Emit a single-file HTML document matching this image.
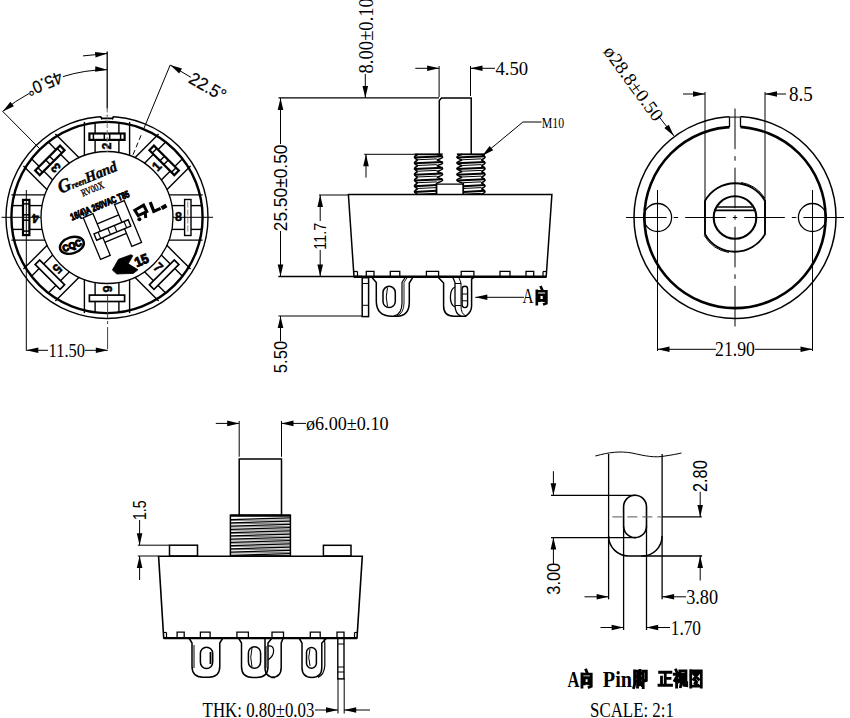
<!DOCTYPE html>
<html><head><meta charset="utf-8"><style>
html,body{margin:0;padding:0;background:#fff;overflow:hidden;width:850px;height:718px;}
svg{display:block;}
</style></head><body>
<svg width="850" height="718" viewBox="0 0 850 718" stroke="#000" fill="#000" stroke-linecap="butt">
<rect x="0" y="0" width="850" height="718" fill="#fff" stroke="none"/>
<g fill="none">
<circle cx="107.0" cy="217.5" r="101.0" stroke-width="1.4" fill="none" />
<circle cx="107.0" cy="217.5" r="95.6" stroke-width="2.4" fill="none" />
<circle cx="107.0" cy="217.5" r="66.0" stroke-width="1.3" fill="none" />
<rect x="101" y="115.5" width="12" height="4" fill="#fff" stroke="none"/>
<polyline points="100.80,116.60 101.60,118.40 112.60,118.40 113.40,116.60" stroke-width="1.6" fill="none" />
<line x1="101.60" y1="118.40" x2="101.60" y2="119.60" stroke-width="1.0" />
<line x1="112.60" y1="118.40" x2="112.60" y2="119.60" stroke-width="1.0" />
<g transform="rotate(0 107.0 217.5)"><line x1="84.4" y1="121.90" x2="84.4" y2="155.49" stroke-width="1.4"/><line x1="129.6" y1="121.90" x2="129.6" y2="155.49" stroke-width="1.4"/><line x1="95.1" y1="121.90" x2="95.1" y2="152.58" stroke-width="1.4"/><line x1="118.9" y1="121.90" x2="118.9" y2="152.58" stroke-width="1.4"/><rect x="89.4" y="133.5" width="35.2" height="6.400000000000006" stroke-width="2.2" fill="#fff"/><line x1="93.4" y1="133.5" x2="93.4" y2="139.9" stroke-width="1.5"/><line x1="104.3" y1="133.5" x2="104.3" y2="139.9" stroke-width="1.5"/><line x1="109.7" y1="133.5" x2="109.7" y2="139.9" stroke-width="1.5"/><line x1="120.6" y1="133.5" x2="120.6" y2="139.9" stroke-width="1.5"/><text x="107.0" y="149.70" font-size="13.5" font-family="Liberation Sans" font-weight="bold" text-anchor="middle" textLength="7" lengthAdjust="spacingAndGlyphs" transform="rotate(-90 107.0 146.1)" fill="#000" stroke="#000" stroke-width="0.5">2</text></g>
<g transform="rotate(45 107.0 217.5)"><line x1="84.4" y1="121.90" x2="84.4" y2="155.49" stroke-width="1.4"/><line x1="129.6" y1="121.90" x2="129.6" y2="155.49" stroke-width="1.4"/><line x1="95.1" y1="121.90" x2="95.1" y2="152.58" stroke-width="1.4"/><line x1="118.9" y1="121.90" x2="118.9" y2="152.58" stroke-width="1.4"/><rect x="89.4" y="133.5" width="35.2" height="6.400000000000006" stroke-width="2.2" fill="#fff"/><line x1="93.4" y1="133.5" x2="93.4" y2="139.9" stroke-width="1.5"/><line x1="104.3" y1="133.5" x2="104.3" y2="139.9" stroke-width="1.5"/><line x1="109.7" y1="133.5" x2="109.7" y2="139.9" stroke-width="1.5"/><line x1="120.6" y1="133.5" x2="120.6" y2="139.9" stroke-width="1.5"/><text x="107.0" y="149.70" font-size="13.5" font-family="Liberation Sans" font-weight="bold" text-anchor="middle" textLength="7" lengthAdjust="spacingAndGlyphs" transform="rotate(-90 107.0 146.1)" fill="#000" stroke="#000" stroke-width="0.5">1</text></g>
<g transform="rotate(90 107.0 217.5)"><line x1="84.4" y1="121.90" x2="84.4" y2="155.49" stroke-width="1.4"/><line x1="129.6" y1="121.90" x2="129.6" y2="155.49" stroke-width="1.4"/><line x1="95.1" y1="121.90" x2="95.1" y2="152.58" stroke-width="1.4"/><line x1="118.9" y1="121.90" x2="118.9" y2="152.58" stroke-width="1.4"/><rect x="89.0" y="133.5" width="36" height="6.400000000000006" stroke-width="1.4" fill="#fff"/><line x1="91.0" y1="136.7" x2="123.0" y2="136.7" stroke-width="1" stroke="#888" stroke-dasharray="6 2"/><text x="107.0" y="149.70" font-size="13.5" font-family="Liberation Sans" font-weight="bold" text-anchor="middle" textLength="7" lengthAdjust="spacingAndGlyphs" transform="rotate(-90 107.0 146.1)" fill="#000" stroke="#000" stroke-width="0.5">8</text></g>
<g transform="rotate(135 107.0 217.5)"><line x1="84.4" y1="121.90" x2="84.4" y2="155.49" stroke-width="1.4"/><line x1="129.6" y1="121.90" x2="129.6" y2="155.49" stroke-width="1.4"/><line x1="95.1" y1="121.90" x2="95.1" y2="152.58" stroke-width="1.4"/><line x1="118.9" y1="121.90" x2="118.9" y2="152.58" stroke-width="1.4"/><rect x="89.4" y="133.5" width="35.2" height="6.400000000000006" stroke-width="1.7" fill="#fff"/><text x="107.0" y="149.70" font-size="13.5" font-family="Liberation Sans" font-weight="bold" text-anchor="middle" textLength="7" lengthAdjust="spacingAndGlyphs" transform="rotate(-90 107.0 146.1)" fill="#000" stroke="#000" stroke-width="0.5">7</text></g>
<g transform="rotate(180 107.0 217.5)"><line x1="84.4" y1="121.90" x2="84.4" y2="155.49" stroke-width="1.4"/><line x1="129.6" y1="121.90" x2="129.6" y2="155.49" stroke-width="1.4"/><line x1="95.1" y1="121.90" x2="95.1" y2="152.58" stroke-width="1.4"/><line x1="118.9" y1="121.90" x2="118.9" y2="152.58" stroke-width="1.4"/><rect x="89.4" y="133.5" width="35.2" height="6.400000000000006" stroke-width="1.7" fill="#fff"/><text x="107.0" y="149.70" font-size="13.5" font-family="Liberation Sans" font-weight="bold" text-anchor="middle" textLength="7" lengthAdjust="spacingAndGlyphs" transform="rotate(-90 107.0 146.1)" fill="#000" stroke="#000" stroke-width="0.5">6</text></g>
<g transform="rotate(225 107.0 217.5)"><line x1="84.4" y1="121.90" x2="84.4" y2="155.49" stroke-width="1.4"/><line x1="129.6" y1="121.90" x2="129.6" y2="155.49" stroke-width="1.4"/><line x1="95.1" y1="121.90" x2="95.1" y2="152.58" stroke-width="1.4"/><line x1="118.9" y1="121.90" x2="118.9" y2="152.58" stroke-width="1.4"/><rect x="89.4" y="133.5" width="35.2" height="6.400000000000006" stroke-width="1.7" fill="#fff"/><text x="107.0" y="149.70" font-size="13.5" font-family="Liberation Sans" font-weight="bold" text-anchor="middle" textLength="7" lengthAdjust="spacingAndGlyphs" transform="rotate(-90 107.0 146.1)" fill="#000" stroke="#000" stroke-width="0.5">5</text></g>
<g transform="rotate(270 107.0 217.5)"><line x1="84.4" y1="121.90" x2="84.4" y2="155.49" stroke-width="1.4"/><line x1="129.6" y1="121.90" x2="129.6" y2="155.49" stroke-width="1.4"/><line x1="95.1" y1="121.90" x2="95.1" y2="152.58" stroke-width="1.4"/><line x1="118.9" y1="121.90" x2="118.9" y2="152.58" stroke-width="1.4"/><rect x="89.4" y="133.5" width="35.2" height="6.400000000000006" stroke-width="2.2" fill="#fff"/><line x1="93.4" y1="133.5" x2="93.4" y2="139.9" stroke-width="1.5"/><line x1="104.3" y1="133.5" x2="104.3" y2="139.9" stroke-width="1.5"/><line x1="109.7" y1="133.5" x2="109.7" y2="139.9" stroke-width="1.5"/><line x1="120.6" y1="133.5" x2="120.6" y2="139.9" stroke-width="1.5"/><text x="107.0" y="149.70" font-size="13.5" font-family="Liberation Sans" font-weight="bold" text-anchor="middle" textLength="7" lengthAdjust="spacingAndGlyphs" transform="rotate(-90 107.0 146.1)" fill="#000" stroke="#000" stroke-width="0.5">4</text></g>
<g transform="rotate(315 107.0 217.5)"><line x1="84.4" y1="121.90" x2="84.4" y2="155.49" stroke-width="1.4"/><line x1="129.6" y1="121.90" x2="129.6" y2="155.49" stroke-width="1.4"/><line x1="95.1" y1="121.90" x2="95.1" y2="152.58" stroke-width="1.4"/><line x1="118.9" y1="121.90" x2="118.9" y2="152.58" stroke-width="1.4"/><rect x="89.4" y="133.5" width="35.2" height="6.400000000000006" stroke-width="2.2" fill="#fff"/><line x1="93.4" y1="133.5" x2="93.4" y2="139.9" stroke-width="1.5"/><line x1="104.3" y1="133.5" x2="104.3" y2="139.9" stroke-width="1.5"/><line x1="109.7" y1="133.5" x2="109.7" y2="139.9" stroke-width="1.5"/><line x1="120.6" y1="133.5" x2="120.6" y2="139.9" stroke-width="1.5"/><text x="107.0" y="149.70" font-size="13.5" font-family="Liberation Sans" font-weight="bold" text-anchor="middle" textLength="7" lengthAdjust="spacingAndGlyphs" transform="rotate(-90 107.0 146.1)" fill="#000" stroke="#000" stroke-width="0.5">3</text></g>
<line x1="107.20" y1="108.50" x2="107.20" y2="122.00" stroke-width="1.0" stroke-dasharray="4 2" stroke="#666"/>
<line x1="107.20" y1="51.60" x2="107.20" y2="108.50" stroke-width="1.3" />
<line x1="1.50" y1="217.30" x2="41.00" y2="217.30" stroke-width="1.0" />
<line x1="172.50" y1="217.30" x2="213.00" y2="217.30" stroke-width="1.0" />
<line x1="107.20" y1="123.00" x2="107.20" y2="152.00" stroke-width="1.0" stroke-dasharray="5 2" stroke="#777"/>
<line x1="26.30" y1="190.00" x2="26.30" y2="350.50" stroke-width="1.0" />
<line x1="107.60" y1="296.00" x2="107.60" y2="350.50" stroke-width="1.0" stroke-dasharray="22 3 3 3" stroke="#444"/>
<line x1="26.30" y1="350.30" x2="48.00" y2="350.30" stroke-width="1.0" />
<line x1="85.00" y1="350.30" x2="107.80" y2="350.30" stroke-width="1.0" />
<polygon points="26.30,350.30 38.30,347.50 38.30,353.10" fill="#000" stroke="none"/>
<polygon points="107.80,350.30 95.80,353.10 95.80,347.50" fill="#000" stroke="none"/>
<text fill="#000" stroke="none" x="66.80" y="357.20" font-size="19.71" font-family="Liberation Serif" font-weight="normal" text-anchor="middle" textLength="36.37" lengthAdjust="spacingAndGlyphs"  >11.50</text>
<line x1="83.00" y1="55.90" x2="107.20" y2="53.50" stroke-width="1.0" />
<polygon points="107.20,53.50 95.54,57.48 94.98,51.91" fill="#000" stroke="none"/>
<path d="M 107.2 69.7 A 147.8 147.8 0 0 0 63 76.6" stroke-width="1.0" fill="none" />
<polygon points="107.20,69.70 95.07,71.87 95.36,66.28" fill="#000" stroke="none"/>
<path d="M 29 93.5 A 147.8 147.8 0 0 0 2.7 111.4" stroke-width="1.0" fill="none" />
<polygon points="2.70,111.40 10.43,101.81 13.88,106.22" fill="#000" stroke="none"/>
<line x1="2.70" y1="111.40" x2="40.00" y2="149.00" stroke-width="1.0" />
<text fill="#000"  x="42.21" y="78.23" font-size="17.61" font-family="Liberation Sans" font-weight="normal" text-anchor="middle" textLength="37.58" lengthAdjust="spacingAndGlyphs" transform="rotate(157.5 42.21 78.23)" stroke="#000" stroke-width="0.2">45.0°</text>
<line x1="170.20" y1="65.00" x2="143.58" y2="129.18" stroke-width="1.0" />
<line x1="141.06" y1="135.27" x2="132.26" y2="156.52" stroke-width="1.0" stroke-dasharray="5 3"/>
<line x1="170.20" y1="65.00" x2="190.90" y2="77.30" stroke-width="1.0" />
<polygon points="170.20,65.00 181.99,68.58 179.19,73.42" fill="#000" stroke="none"/>
<text fill="#000"  x="204.68" y="91.91" font-size="17.61" font-family="Liberation Sans" font-weight="normal" text-anchor="middle" textLength="39.58" lengthAdjust="spacingAndGlyphs" transform="rotate(30 204.68 91.91)" stroke="#000" stroke-width="0.2">22.5°</text>
<g transform="translate(112.4 230.0) rotate(-22.5)">
<rect x="-22.2" y="-22.6" width="10.5" height="45.2" stroke-width="1.3" fill="none"/>
<rect x="11.7" y="-22.6" width="10.5" height="45.2" stroke-width="1.3" fill="none"/>
<line x1="-11.7" y1="-11.5" x2="11.7" y2="-11.5" stroke-width="1.3"/>
<line x1="-11.7" y1="8.5" x2="11.7" y2="8.5" stroke-width="1.3"/>
<rect x="-18.5" y="-3.4" width="37" height="6.8" stroke-width="1.4" fill="#fff"/>
<line x1="-14" y1="-3.4" x2="-14" y2="3.4" stroke-width="1.1"/><line x1="-3.5" y1="-3.4" x2="-3.5" y2="3.4" stroke-width="1.1"/><line x1="3.5" y1="-3.4" x2="3.5" y2="3.4" stroke-width="1.1"/><line x1="14" y1="-3.4" x2="14" y2="3.4" stroke-width="1.1"/>
</g>
<g transform="translate(86.5 177.8) rotate(-22)">
<text fill="#000" stroke="#000" stroke-width="0.4" x="-30" y="5" font-family="Liberation Serif" font-style="italic" font-weight="bold" textLength="62" lengthAdjust="spacingAndGlyphs"><tspan font-size="19">G</tspan><tspan font-size="9">reen</tspan><tspan font-size="15">Hand</tspan></text>
</g>
<text fill="#000"  x="93.74" y="192.13" font-size="10.29" font-family="Liberation Serif" font-weight="normal" text-anchor="middle" textLength="23.93" lengthAdjust="spacingAndGlyphs" transform="rotate(-22.5 93.74 192.13)" stroke="#000" stroke-width="0.35">RV00X</text>
<text fill="#000"  x="101.10" y="208.44" font-size="9.58" font-family="Liberation Sans" font-weight="bold" text-anchor="middle" textLength="62.86" lengthAdjust="spacingAndGlyphs" transform="rotate(-22.5 101.10 208.44)" stroke="#000" stroke-width="1.0">16(4)A 250VAC T85</text>
<path d="M 134.8 210.2 L 143.6 205.2 L 146.8 211.6 L 138.2 215.6 Z" stroke-width="3.0" fill="none" />
<path d="M 145.2 213 L 145.8 218" stroke-width="3.0" fill="none" />
<circle cx="139.4" cy="219.3" r="2.0" fill="#000" stroke="none"/>
<path d="M 150.2 202.2 L 153.8 211.4 L 160.6 208.4" stroke-width="3.2" fill="none" />
<path d="M 161.6 208.2 L 166.4 205.4" stroke-width="4.0" fill="none" />
<g transform="translate(71.9 245.3) rotate(-18)"><ellipse cx="0" cy="0" rx="12.3" ry="8" stroke-width="2.4" fill="none"/></g>
<text fill="#000"  x="73.11" y="248.55" font-size="9.15" font-family="Liberation Sans" font-weight="bold" text-anchor="middle" textLength="19.82" lengthAdjust="spacingAndGlyphs" transform="rotate(-20 73.11 248.55)" stroke="#000" stroke-width="1.1">CQC</text>
<path d="M 112.4 270 L 118.5 259.3 L 131 254.7 L 132.8 255.8 L 128.3 263.8 L 138 269.8 L 133.2 273.4 L 116.8 274 Z" fill="#000" stroke="#000" stroke-width="0.8"/>
<text fill="#000"  x="143.32" y="264.59" font-size="13.38" font-family="Liberation Sans" font-weight="bold" text-anchor="middle" textLength="14.20" lengthAdjust="spacingAndGlyphs" transform="rotate(-22.5 143.32 264.59)" stroke="#000" stroke-width="1.0">15</text>
<line x1="278.50" y1="97.90" x2="439.00" y2="97.90" stroke-width="1.2" />
<line x1="280.50" y1="98.00" x2="280.50" y2="276.50" stroke-width="1.0" />
<polygon points="280.50,98.00 283.30,110.00 277.70,110.00" fill="#000" stroke="none"/>
<polygon points="280.50,276.50 277.70,264.50 283.30,264.50" fill="#000" stroke="none"/>
<rect x="272" y="144" width="17" height="87" fill="#fff" stroke="none"/>
<text fill="#000" stroke="none" x="287.45" y="187.90" font-size="19.01" font-family="Liberation Sans" font-weight="normal" text-anchor="middle" textLength="86.71" lengthAdjust="spacingAndGlyphs" transform="rotate(-90 287.45 187.90)" >25.50±0.50</text>
<line x1="278.40" y1="276.50" x2="362.00" y2="276.50" stroke-width="1.4" />
<line x1="319.00" y1="195.00" x2="348.40" y2="195.00" stroke-width="1.0" />
<line x1="320.20" y1="195.00" x2="320.20" y2="276.50" stroke-width="1.0" />
<polygon points="320.20,195.00 323.00,207.00 317.40,207.00" fill="#000" stroke="none"/>
<polygon points="320.20,276.50 317.40,264.50 323.00,264.50" fill="#000" stroke="none"/>
<rect x="312" y="221" width="16" height="29" fill="#fff" stroke="none"/>
<text fill="#000" stroke="none" x="326.30" y="236.25" font-size="16.90" font-family="Liberation Sans" font-weight="normal" text-anchor="middle" textLength="26.82" lengthAdjust="spacingAndGlyphs" transform="rotate(-90 326.30 236.25)" >11.7</text>
<line x1="278.40" y1="316.00" x2="362.00" y2="316.00" stroke-width="1.0" />
<line x1="280.50" y1="316.00" x2="280.50" y2="375.00" stroke-width="1.0" />
<polygon points="280.50,316.00 283.30,328.00 277.70,328.00" fill="#000" stroke="none"/>
<rect x="272" y="341" width="17" height="34" fill="#fff" stroke="none"/>
<text fill="#000" stroke="none" x="286.90" y="357.00" font-size="19.15" font-family="Liberation Sans" font-weight="normal" text-anchor="middle" textLength="32.42" lengthAdjust="spacingAndGlyphs" transform="rotate(-90 286.90 357.00)" >5.50</text>
<line x1="365.30" y1="0.00" x2="365.30" y2="97.90" stroke-width="1.0" />
<polygon points="365.30,97.90 362.50,85.90 368.10,85.90" fill="#000" stroke="none"/>
<rect x="357" y="0" width="18" height="74" fill="#fff" stroke="none"/>
<text fill="#000" stroke="none" x="372.90" y="35.75" font-size="20.59" font-family="Liberation Serif" font-weight="normal" text-anchor="middle" textLength="75.35" lengthAdjust="spacingAndGlyphs" transform="rotate(-90 372.90 35.75)" >8.00±0.10</text>
<polyline points="439.30,154.30 439.30,100.50 441.50,97.90 471.20,97.90 471.20,154.30" stroke-width="1.5" fill="none" />
<line x1="439.10" y1="66.00" x2="439.10" y2="97.00" stroke-width="1.0" />
<line x1="470.50" y1="66.00" x2="470.50" y2="96.00" stroke-width="1.0" />
<line x1="415.30" y1="68.30" x2="439.10" y2="68.30" stroke-width="1.0" />
<polygon points="439.10,68.30 427.10,71.10 427.10,65.50" fill="#000" stroke="none"/>
<line x1="470.50" y1="68.30" x2="495.00" y2="68.30" stroke-width="1.0" />
<polygon points="470.50,68.30 482.50,65.50 482.50,71.10" fill="#000" stroke="none"/>
<text fill="#000" stroke="none" x="511.75" y="74.80" font-size="18.68" font-family="Liberation Serif" font-weight="normal" text-anchor="middle" textLength="32.68" lengthAdjust="spacingAndGlyphs"  >4.50</text>
<line x1="364.20" y1="154.30" x2="414.70" y2="154.30" stroke-width="1.0" />
<line x1="484.60" y1="154.30" x2="483.30" y2="154.30" stroke-width="1.0" />
<line x1="366.00" y1="154.30" x2="366.00" y2="177.60" stroke-width="1.0" />
<polygon points="366.00,154.30 368.80,166.30 363.20,166.30" fill="#000" stroke="none"/>
<line x1="522.90" y1="122.00" x2="541.50" y2="122.00" stroke-width="1.0" />
<line x1="522.90" y1="122.00" x2="482.20" y2="155.80" stroke-width="1.0" />
<polygon points="482.20,155.80 489.61,145.95 493.20,150.25" fill="#000" stroke="none"/>
<text fill="#000" stroke="none" x="553.00" y="127.60" font-size="15.44" font-family="Liberation Serif" font-weight="normal" text-anchor="middle" textLength="22.39" lengthAdjust="spacingAndGlyphs"  >M10</text>
<line x1="414.50" y1="154.30" x2="442.60" y2="154.30" stroke-width="1.8" />
<path d="M 417.7 154.30 Q 414.5 156.31 414.5 157.17 Q 414.5 158.03 417.7 160.04 M 436.8 154.30 Q 442.6 156.31 442.6 157.17 Q 442.6 158.03 436.8 160.04 M 417.7 160.04 Q 414.5 162.05 414.5 162.91 Q 414.5 163.78 417.7 165.79 M 436.8 160.04 Q 442.6 162.05 442.6 162.91 Q 442.6 163.78 436.8 165.79 M 417.7 165.79 Q 414.5 167.80 414.5 168.66 Q 414.5 169.52 417.7 171.53 M 436.8 165.79 Q 442.6 167.80 442.6 168.66 Q 442.6 169.52 436.8 171.53 M 417.7 171.53 Q 414.5 173.54 414.5 174.40 Q 414.5 175.26 417.7 177.27 M 436.8 171.53 Q 442.6 173.54 442.6 174.40 Q 442.6 175.26 436.8 177.27 M 417.7 177.27 Q 414.5 179.28 414.5 180.14 Q 414.5 181.00 417.7 183.01 M 436.8 177.27 Q 442.6 179.28 442.6 180.14 Q 442.6 181.00 436.8 183.01 M 417.7 183.01 Q 414.5 185.02 414.5 185.89 Q 414.5 186.75 417.7 188.76 M 436.5 183.01 L 436.5 188.76 M 417.7 188.76 Q 414.5 190.77 414.5 191.63 Q 414.5 192.49 417.7 194.50 M 436.5 188.76 L 436.5 194.50" stroke-width="1.6" fill="none"/>
<path d="M 414.5 157.46 L 442.6 156.31 M 414.5 163.20 L 442.6 162.05 M 414.5 168.94 L 442.6 167.80 M 414.5 174.69 L 442.6 173.54 M 414.5 180.43 L 442.6 179.28 M 414.5 186.17 L 436.5 185.02 M 414.5 191.92 L 436.5 190.77" stroke-width="2.0" fill="none"/>
<path d="M 417.7 159.76 L 436.8 158.89 M 417.7 165.50 L 436.8 164.64 M 417.7 171.24 L 436.8 170.38 M 417.7 176.98 L 436.8 176.12 M 417.7 182.73 L 436.8 181.87 M 417.7 188.47 L 436.5 187.61 M 417.7 194.21 L 436.5 193.35" stroke-width="1.0" fill="none"/>
<line x1="456.90" y1="154.30" x2="485.00" y2="154.30" stroke-width="1.8" />
<path d="M 462.2 154.30 Q 456.9 156.31 456.9 157.17 Q 456.9 158.03 462.2 160.04 M 481.3 154.30 Q 485.0 156.31 485.0 157.17 Q 485.0 158.03 481.3 160.04 M 462.2 160.04 Q 456.9 162.05 456.9 162.91 Q 456.9 163.78 462.2 165.79 M 481.3 160.04 Q 485.0 162.05 485.0 162.91 Q 485.0 163.78 481.3 165.79 M 462.2 165.79 Q 456.9 167.80 456.9 168.66 Q 456.9 169.52 462.2 171.53 M 481.3 165.79 Q 485.0 167.80 485.0 168.66 Q 485.0 169.52 481.3 171.53 M 462.2 171.53 Q 456.9 173.54 456.9 174.40 Q 456.9 175.26 462.2 177.27 M 481.3 171.53 Q 485.0 173.54 485.0 174.40 Q 485.0 175.26 481.3 177.27 M 462.2 177.27 Q 456.9 179.28 456.9 180.14 Q 456.9 181.00 462.2 183.01 M 481.3 177.27 Q 485.0 179.28 485.0 180.14 Q 485.0 181.00 481.3 183.01 M 463.3 183.01 L 463.3 188.76 M 481.3 183.01 Q 485.0 185.02 485.0 185.89 Q 485.0 186.75 481.3 188.76 M 463.3 188.76 L 463.3 194.50 M 481.3 188.76 Q 485.0 190.77 485.0 191.63 Q 485.0 192.49 481.3 194.50" stroke-width="1.6" fill="none"/>
<path d="M 456.9 157.46 L 485.0 156.31 M 456.9 163.20 L 485.0 162.05 M 456.9 168.94 L 485.0 167.80 M 456.9 174.69 L 485.0 173.54 M 456.9 180.43 L 485.0 179.28 M 463.3 186.17 L 485.0 185.02 M 463.3 191.92 L 485.0 190.77" stroke-width="2.0" fill="none"/>
<path d="M 462.2 159.76 L 481.3 158.89 M 462.2 165.50 L 481.3 164.64 M 462.2 171.24 L 481.3 170.38 M 462.2 176.98 L 481.3 176.12 M 462.2 182.73 L 481.3 181.87 M 463.3 188.47 L 481.3 187.61 M 463.3 194.21 L 481.3 193.35" stroke-width="1.0" fill="none"/>
<polyline points="436.50,194.50 436.50,184.20 463.30,184.20 463.30,194.50" stroke-width="1.3" fill="none" />
<polygon points="348.40,194.50 551.90,194.50 546.20,276.80 354.00,276.80" stroke-width="1.5" fill="none" />
<line x1="354.00" y1="276.80" x2="546.20" y2="276.80" stroke-width="2.4" />
<polyline points="366.30,277.00 366.30,271.30 374.00,271.30 374.00,277.00" stroke-width="1.3" fill="none" />
<polyline points="390.30,277.00 390.30,271.30 399.80,271.30 399.80,277.00" stroke-width="1.3" fill="none" />
<polyline points="426.40,277.00 426.40,271.30 438.60,271.30 438.60,277.00" stroke-width="1.3" fill="none" />
<polyline points="461.20,277.00 461.20,271.30 473.90,271.30 473.90,277.00" stroke-width="1.3" fill="none" />
<polyline points="500.00,277.00 500.00,271.30 510.00,271.30 510.00,277.00" stroke-width="1.3" fill="none" />
<polyline points="526.00,277.00 526.00,271.30 533.70,271.30 533.70,277.00" stroke-width="1.3" fill="none" />
<line x1="354.00" y1="271.50" x2="357.50" y2="271.50" stroke-width="1.2" />
<line x1="357.50" y1="271.50" x2="357.50" y2="277.00" stroke-width="1.2" />
<line x1="543.00" y1="271.50" x2="546.50" y2="271.50" stroke-width="1.2" />
<line x1="543.00" y1="271.50" x2="543.00" y2="277.00" stroke-width="1.2" />
<rect x="362.2" y="277.7" width="6.4" height="38.9" stroke-width="1.5" fill="none"/>
<line x1="362.20" y1="283.50" x2="368.60" y2="283.50" stroke-width="1.0" />
<line x1="362.20" y1="305.30" x2="368.60" y2="305.30" stroke-width="1.0" />
<path d="M 372.2 277.8 L 376.3 282.5 L 376.3 301 Q 376.3 316.2 392 316.2 L 397 316.2 Q 409.3 316.2 409.3 302 L 409.3 283 L 412.5 277.8" stroke-width="1.5" fill="none" />
<path d="M 405 277.8 L 402 282.5 L 402 303 Q 402 314 394 316.2" stroke-width="1.2" fill="none" />
<path d="M 407 277.8 L 404 282.5 L 404 303 Q 404 313 397 316" stroke-width="0.9" fill="none" />
<rect x="383" y="286.3" width="12.3" height="21.3" rx="6.15" ry="6.15" stroke-width="1.5" fill="none"/>
<path d="M 387.5 287.5 Q 385 297 387.5 306.5" stroke-width="1.0" fill="none" />
<path d="M 438.6 277.8 L 443.6 283 L 443.6 306 Q 443.6 316.2 454 316.2 L 465.8 316.2 Q 471.6 312 471.6 306 L 471.6 279 L 473.5 277.8" stroke-width="1.5" fill="none" />
<path d="M 453 277.8 L 455 282.6 L 455 305.3 Q 455 314 461.2 316.2" stroke-width="1.3" fill="none" />
<path d="M 459 277.8 L 461 283 L 461 306 Q 461 314 466 316" stroke-width="1.0" fill="none" />
<path d="M 455 287 Q 450.4 289 450.4 297 Q 450.4 305 455 307" stroke-width="1.3" fill="none" />
<line x1="455.00" y1="283.50" x2="461.00" y2="283.50" stroke-width="1.0" />
<line x1="455.00" y1="305.50" x2="461.00" y2="305.50" stroke-width="1.0" />
<rect x="462.1" y="286.3" width="5.5" height="21.3" rx="2.75" ry="2.75" stroke-width="1.4" fill="none"/>
<line x1="462.30" y1="294.00" x2="467.40" y2="294.00" stroke-width="1.0" />
<line x1="462.30" y1="300.80" x2="467.40" y2="300.80" stroke-width="1.0" />
<line x1="475.30" y1="297.30" x2="524.00" y2="297.30" stroke-width="1.0" />
<polygon points="475.30,297.30 487.30,294.50 487.30,300.10" fill="#000" stroke="none"/>
<text fill="#000" stroke="none" x="528.00" y="303.30" font-size="21.76" font-family="Liberation Serif" font-weight="normal" text-anchor="middle" textLength="10.96" lengthAdjust="spacingAndGlyphs"  >A</text>
<path d="M 541.00 287.20 L 542.20 289.90 M 536.80 290.92 L 536.80 304.10 M 536.80 291.26 L 546.40 291.26 M 546.40 291.26 L 546.40 303.25 L 544.24 304.10 M 539.20 294.81 L 539.20 300.72 M 539.20 294.81 L 544.00 294.81 M 544.00 294.81 L 544.00 300.72 M 539.20 300.38 L 544.00 300.38" stroke-width="2.6" fill="none" stroke-linecap="square" stroke-linejoin="miter"/>
<circle cx="735.0" cy="217.5" r="101.0" stroke-width="1.5" fill="none" />
<circle cx="735.0" cy="217.5" r="90.6" stroke-width="2.6" fill="none" />
<rect x="729.5" y="110" width="11" height="20" fill="#fff" stroke="none"/>
<line x1="729.50" y1="116.65" x2="729.50" y2="127.07" stroke-width="1.3" />
<line x1="740.50" y1="116.65" x2="740.50" y2="127.07" stroke-width="1.3" />
<line x1="729.50" y1="117.15" x2="740.50" y2="117.15" stroke-width="1.3" stroke="#444"/>
<circle cx="657.6" cy="217.5" r="14" stroke-width="1.3" fill="none" />
<circle cx="812.4" cy="217.5" r="14" stroke-width="1.3" fill="none" />
<path d="M 705 200.87 A 34.3 34.3 0 0 1 765 200.87 L 765 234.13 A 34.3 34.3 0 0 1 705 234.13 Z" stroke-width="1.9" fill="none" />
<path d="M 741.18 182.44 A 35.6 35.6 0 0 1 764.86 198.11" stroke-width="1.0" fill="none" />
<path d="M 728.82 252.56 A 35.6 35.6 0 0 1 704.17 235.30" stroke-width="1.0" fill="none" />
<circle cx="735.0" cy="217.5" r="21.3" stroke-width="2.1" fill="none" />
<line x1="717.50" y1="207.00" x2="752.50" y2="207.00" stroke-width="1.6" />
<line x1="714.50" y1="210.40" x2="755.50" y2="210.40" stroke-width="1.6" />
<line x1="732.75" y1="217.50" x2="737.25" y2="217.50" stroke-width="1.0" />
<line x1="744.25" y1="217.50" x2="784.85" y2="217.50" stroke-width="1.0" />
<line x1="791.85" y1="217.50" x2="796.35" y2="217.50" stroke-width="1.0" />
<line x1="803.35" y1="217.50" x2="843.95" y2="217.50" stroke-width="1.0" />
<line x1="685.15" y1="217.50" x2="725.75" y2="217.50" stroke-width="1.0" />
<line x1="673.65" y1="217.50" x2="678.15" y2="217.50" stroke-width="1.0" />
<line x1="626.05" y1="217.50" x2="666.65" y2="217.50" stroke-width="1.0" />
<line x1="735.00" y1="215.25" x2="735.00" y2="219.75" stroke-width="1.0" />
<line x1="735.00" y1="226.75" x2="735.00" y2="267.35" stroke-width="1.0" />
<line x1="735.00" y1="274.35" x2="735.00" y2="278.85" stroke-width="1.0" />
<line x1="735.00" y1="285.85" x2="735.00" y2="326.45" stroke-width="1.0" />
<line x1="735.00" y1="167.65" x2="735.00" y2="208.25" stroke-width="1.0" />
<line x1="735.00" y1="156.15" x2="735.00" y2="160.65" stroke-width="1.0" />
<line x1="735.00" y1="108.55" x2="735.00" y2="149.15" stroke-width="1.0" />
<line x1="657.50" y1="190.00" x2="657.50" y2="351.00" stroke-width="1.0" />
<line x1="812.50" y1="190.00" x2="812.50" y2="351.00" stroke-width="1.0" />
<line x1="657.50" y1="349.30" x2="716.00" y2="349.30" stroke-width="1.0" />
<line x1="755.00" y1="349.30" x2="812.50" y2="349.30" stroke-width="1.0" />
<polygon points="657.50,349.30 669.50,346.50 669.50,352.10" fill="#000" stroke="none"/>
<polygon points="812.50,349.30 800.50,352.10 800.50,346.50" fill="#000" stroke="none"/>
<text fill="#000" stroke="none" x="735.00" y="355.85" font-size="20.15" font-family="Liberation Serif" font-weight="normal" text-anchor="middle" textLength="39.81" lengthAdjust="spacingAndGlyphs"  >21.90</text>
<line x1="705.00" y1="92.00" x2="705.00" y2="217.50" stroke-width="1.0" />
<line x1="765.00" y1="92.00" x2="765.00" y2="217.50" stroke-width="1.0" />
<line x1="683.00" y1="94.00" x2="705.00" y2="94.00" stroke-width="1.0" />
<polygon points="705.00,94.00 693.00,96.80 693.00,91.20" fill="#000" stroke="none"/>
<line x1="765.00" y1="94.00" x2="786.00" y2="94.00" stroke-width="1.0" />
<polygon points="765.00,94.00 777.00,91.20 777.00,96.80" fill="#000" stroke="none"/>
<text fill="#000" stroke="none" x="801.00" y="100.85" font-size="20.15" font-family="Liberation Serif" font-weight="normal" text-anchor="middle" textLength="23.81" lengthAdjust="spacingAndGlyphs"  >8.5</text>
<line x1="673.90" y1="135.90" x2="658.70" y2="116.20" stroke-width="1.0" />
<polygon points="673.90,135.90 664.35,128.12 668.78,124.69" fill="#000" stroke="none"/>
<text fill="#000" stroke="none" x="628.54" y="87.07" font-size="18.38" font-family="Liberation Serif" font-weight="normal" text-anchor="middle" textLength="87.65" lengthAdjust="spacingAndGlyphs" transform="rotate(54 628.54 87.07)" >ø28.8±0.50</text>
<rect x="239.2" y="459" width="42.3" height="56.4" stroke-width="1.5" fill="none"/>
<line x1="239.20" y1="421.00" x2="239.20" y2="456.80" stroke-width="1.0" />
<line x1="281.50" y1="421.00" x2="281.50" y2="456.80" stroke-width="1.0" />
<line x1="215.80" y1="423.40" x2="239.20" y2="423.40" stroke-width="1.0" />
<polygon points="239.20,423.40 227.20,426.20 227.20,420.60" fill="#000" stroke="none"/>
<line x1="281.50" y1="423.40" x2="306.00" y2="423.40" stroke-width="1.0" />
<polygon points="281.50,423.40 293.50,420.60 293.50,426.20" fill="#000" stroke="none"/>
<text fill="#000" stroke="none" x="347.25" y="430.00" font-size="18.38" font-family="Liberation Serif" font-weight="normal" text-anchor="middle" textLength="82.65" lengthAdjust="spacingAndGlyphs"  >ø6.00±0.10</text>
<rect x="230.4" y="515.2" width="60" height="40.8" stroke-width="1.5" fill="none"/>
<line x1="230.40" y1="515.60" x2="290.40" y2="515.60" stroke-width="2.2" />
<line x1="231" y1="519.60" x2="290" y2="517.80" stroke-width="1.3"/>
<line x1="231" y1="520.50" x2="290" y2="519.90" stroke-width="0.5"/>
<line x1="231" y1="522.85" x2="290" y2="521.05" stroke-width="1.3"/>
<line x1="231" y1="523.75" x2="290" y2="523.15" stroke-width="0.5"/>
<line x1="231" y1="526.10" x2="290" y2="524.30" stroke-width="1.3"/>
<line x1="231" y1="527.00" x2="290" y2="526.40" stroke-width="0.5"/>
<line x1="231" y1="529.35" x2="290" y2="527.55" stroke-width="1.3"/>
<line x1="231" y1="530.25" x2="290" y2="529.65" stroke-width="0.5"/>
<line x1="231" y1="532.60" x2="290" y2="530.80" stroke-width="1.3"/>
<line x1="231" y1="533.50" x2="290" y2="532.90" stroke-width="0.5"/>
<line x1="231" y1="535.85" x2="290" y2="534.05" stroke-width="1.3"/>
<line x1="231" y1="536.75" x2="290" y2="536.15" stroke-width="0.5"/>
<line x1="231" y1="539.10" x2="290" y2="537.30" stroke-width="1.3"/>
<line x1="231" y1="540.00" x2="290" y2="539.40" stroke-width="0.5"/>
<line x1="231" y1="542.35" x2="290" y2="540.55" stroke-width="1.3"/>
<line x1="231" y1="543.25" x2="290" y2="542.65" stroke-width="0.5"/>
<line x1="231" y1="545.60" x2="290" y2="543.80" stroke-width="1.3"/>
<line x1="231" y1="546.50" x2="290" y2="545.90" stroke-width="0.5"/>
<line x1="231" y1="548.85" x2="290" y2="547.05" stroke-width="1.3"/>
<line x1="231" y1="549.75" x2="290" y2="549.15" stroke-width="0.5"/>
<line x1="231" y1="552.10" x2="290" y2="550.30" stroke-width="1.3"/>
<line x1="231" y1="553.00" x2="290" y2="552.40" stroke-width="0.5"/>
<line x1="231" y1="555.35" x2="290" y2="553.55" stroke-width="1.3"/>
<line x1="231" y1="556.25" x2="290" y2="555.65" stroke-width="0.5"/>
<rect x="169.5" y="545.2" width="28" height="10.8" stroke-width="1.5" fill="none"/>
<rect x="323.4" y="545.3" width="27.6" height="10.7" stroke-width="1.5" fill="none"/>
<polygon points="158.60,556.20 362.30,556.20 357.00,638.00 163.70,638.00" stroke-width="1.6" fill="none" />
<line x1="163.70" y1="638.10" x2="357.00" y2="638.10" stroke-width="2.1" />
<polyline points="177.10,638.00 177.10,632.20 184.20,632.20 184.20,638.00" stroke-width="1.3" fill="none" />
<polyline points="200.40,638.00 200.40,632.20 210.10,632.20 210.10,638.00" stroke-width="1.3" fill="none" />
<polyline points="236.90,638.00 236.90,632.20 248.40,632.20 248.40,638.00" stroke-width="1.3" fill="none" />
<polyline points="272.00,638.00 272.00,632.20 283.50,632.20 283.50,638.00" stroke-width="1.3" fill="none" />
<polyline points="310.30,638.00 310.30,632.20 320.20,632.20 320.20,638.00" stroke-width="1.3" fill="none" />
<polyline points="337.00,638.00 337.00,632.20 344.00,632.20 344.00,638.00" stroke-width="1.3" fill="none" />
<line x1="163.20" y1="632.50" x2="166.50" y2="632.50" stroke-width="1.2" />
<line x1="166.50" y1="632.50" x2="166.50" y2="638.00" stroke-width="1.2" />
<line x1="354.50" y1="632.50" x2="357.40" y2="632.50" stroke-width="1.2" />
<line x1="354.50" y1="632.50" x2="354.50" y2="638.00" stroke-width="1.2" />
<line x1="137.80" y1="545.20" x2="169.50" y2="545.20" stroke-width="1.0" />
<line x1="137.80" y1="556.00" x2="158.20" y2="556.00" stroke-width="1.0" />
<line x1="139.60" y1="520.00" x2="139.60" y2="545.20" stroke-width="1.0" />
<polygon points="139.60,545.20 136.80,533.20 142.40,533.20" fill="#000" stroke="none"/>
<line x1="139.60" y1="556.00" x2="139.60" y2="580.00" stroke-width="1.0" />
<polygon points="139.60,556.00 142.40,568.00 136.80,568.00" fill="#000" stroke="none"/>
<text fill="#000" stroke="none" x="145.85" y="510.25" font-size="17.61" font-family="Liberation Sans" font-weight="normal" text-anchor="middle" textLength="19.58" lengthAdjust="spacingAndGlyphs" transform="rotate(-90 145.85 510.25)" >1.5</text>
<path d="M 189 638 L 192 643 L 192 666.2 Q 192 677.2 203 677.2 L 208.8 677.2 Q 219.8 677.2 219.8 666.2 L 219.8 643 L 222.8 638" stroke-width="1.5" fill="none" />
<line x1="194.00" y1="645.00" x2="194.00" y2="668.00" stroke-width="1.0" />
<rect x="200.4" y="647.2" width="12.299999999999983" height="21.299999999999955" rx="6.1499999999999915" ry="6.1499999999999915" stroke-width="1.5" fill="none"/>
<line x1="210.50" y1="652.00" x2="210.50" y2="664.00" stroke-width="1.8" />
<path d="M 265 638 L 265 643 L 265 667.4 Q 265 677.4 275 677.4 L 271.2 677.4 Q 281.2 677.4 281.2 667.4 L 281.2 643 L 283.2 638" stroke-width="1.5" fill="none" />
<path d="M 268 660 Q 274 656 273.6 650 Q 273 645 268 646" stroke-width="1.2" fill="none" />
<path d="M 238.5 638 L 241.5 643 L 241.5 666.4 Q 241.5 677.4 252.5 677.4 L 257 677.4 Q 268 677.4 268 666.4 L 268 643 L 272 638" stroke-width="1.5" fill="none" />
<line x1="266.00" y1="646.00" x2="266.00" y2="668.00" stroke-width="1.0" />
<rect x="248.4" y="646.8" width="12.200000000000017" height="21.40000000000009" rx="6.1000000000000085" ry="6.1000000000000085" stroke-width="1.5" fill="none"/>
<path d="M 252 648 Q 249.5 657 252 667" stroke-width="1.0" fill="none" />
<path d="M 299 638 L 302 643 L 302 667.4 Q 302 677.4 312 677.4 L 311.8 677.4 Q 321.8 677.4 321.8 667.4 L 321.8 643 L 326.8 638" stroke-width="1.5" fill="none" />
<path d="M 324 638 L 324.8 643 L 324.8 666 Q 324 675 318 677.4" stroke-width="1.2" fill="none" />
<rect x="306.5" y="647.5" width="9.899999999999977" height="20.700000000000045" rx="4.949999999999989" ry="4.949999999999989" stroke-width="1.5" fill="none"/>
<path d="M 310 649 Q 307.5 657 310 666" stroke-width="1.0" fill="none" />
<rect x="337.8" y="638" width="6.2" height="40.9" stroke-width="1.4" fill="none"/>
<line x1="337.80" y1="644.00" x2="344.00" y2="644.00" stroke-width="1.0" />
<line x1="337.80" y1="667.00" x2="344.00" y2="667.00" stroke-width="1.0" />
<line x1="337.80" y1="672.00" x2="344.00" y2="672.00" stroke-width="1.0" />
<line x1="338.00" y1="678.00" x2="338.00" y2="713.50" stroke-width="1.0" />
<line x1="344.20" y1="678.00" x2="344.20" y2="713.50" stroke-width="1.0" />
<line x1="315.00" y1="710.00" x2="338.00" y2="710.00" stroke-width="1.0" />
<polygon points="338.00,710.00 326.00,712.80 326.00,707.20" fill="#000" stroke="none"/>
<line x1="344.20" y1="710.00" x2="370.00" y2="710.00" stroke-width="1.0" />
<polygon points="344.20,710.00 356.20,707.20 356.20,712.80" fill="#000" stroke="none"/>
<text fill="#000" stroke="none" x="258.50" y="716.50" font-size="20.29" font-family="Liberation Serif" font-weight="normal" text-anchor="middle" textLength="111.83" lengthAdjust="spacingAndGlyphs"  >THK: 0.80±0.03</text>
<path d="M 595.3 456 C 610 452 620 451 632 453 C 645 456 655 458 665 456 C 672 455 677 454 681.5 453" stroke-width="1.0" fill="none" />
<line x1="608.60" y1="454.00" x2="608.60" y2="599.30" stroke-width="1.3" />
<line x1="662.10" y1="454.00" x2="662.10" y2="599.30" stroke-width="1.3" />
<path d="M 608.6 536 A 20 20 0 0 0 628.6 556 L 642 556 A 20 20 0 0 0 662.1 536" stroke-width="1.5" fill="none" />
<rect x="623.6" y="495.3" width="22.9" height="42.3" rx="11.45" ry="11.45" stroke-width="1.6" fill="none"/>
<line x1="612.40" y1="516.90" x2="661.00" y2="516.90" stroke-width="1.0" stroke-dasharray="10 5" stroke="#555"/>
<line x1="662.10" y1="516.90" x2="701.80" y2="516.90" stroke-width="1.3" />
<line x1="551.00" y1="495.30" x2="636.00" y2="495.30" stroke-width="1.3" />
<line x1="551.00" y1="537.60" x2="636.00" y2="537.60" stroke-width="1.3" />
<line x1="553.40" y1="471.20" x2="553.40" y2="495.30" stroke-width="1.0" />
<polygon points="553.40,495.30 550.60,483.30 556.20,483.30" fill="#000" stroke="none"/>
<line x1="553.40" y1="537.60" x2="553.40" y2="564.00" stroke-width="1.0" />
<polygon points="553.40,537.60 556.20,549.60 550.60,549.60" fill="#000" stroke="none"/>
<text fill="#000" stroke="none" x="560.50" y="578.70" font-size="19.01" font-family="Liberation Sans" font-weight="normal" text-anchor="middle" textLength="31.91" lengthAdjust="spacingAndGlyphs" transform="rotate(-90 560.50 578.70)" >3.00</text>
<line x1="700.20" y1="491.80" x2="700.20" y2="516.90" stroke-width="1.0" />
<polygon points="700.20,516.90 697.40,504.90 703.00,504.90" fill="#000" stroke="none"/>
<text fill="#000" stroke="none" x="707.30" y="476.10" font-size="19.58" font-family="Liberation Sans" font-weight="normal" text-anchor="middle" textLength="31.76" lengthAdjust="spacingAndGlyphs" transform="rotate(-90 707.30 476.10)" >2.80</text>
<line x1="641.40" y1="556.00" x2="702.10" y2="556.00" stroke-width="1.3" />
<line x1="700.20" y1="555.40" x2="700.20" y2="580.50" stroke-width="1.0" />
<polygon points="700.20,556.00 703.00,568.00 697.40,568.00" fill="#000" stroke="none"/>
<line x1="623.60" y1="526.00" x2="623.60" y2="630.00" stroke-width="1.3" />
<line x1="646.50" y1="526.00" x2="646.50" y2="630.00" stroke-width="1.3" />
<line x1="584.50" y1="596.80" x2="608.60" y2="596.80" stroke-width="1.0" />
<polygon points="608.60,596.80 596.60,599.60 596.60,594.00" fill="#000" stroke="none"/>
<line x1="662.10" y1="596.80" x2="686.00" y2="596.80" stroke-width="1.0" />
<polygon points="662.10,596.80 674.10,594.00 674.10,599.60" fill="#000" stroke="none"/>
<text fill="#000" stroke="none" x="702.15" y="604.20" font-size="20.29" font-family="Liberation Serif" font-weight="normal" text-anchor="middle" textLength="31.93" lengthAdjust="spacingAndGlyphs"  >3.80</text>
<line x1="600.50" y1="627.50" x2="623.60" y2="627.50" stroke-width="1.0" />
<polygon points="623.60,627.50 611.60,630.30 611.60,624.70" fill="#000" stroke="none"/>
<line x1="646.20" y1="627.50" x2="670.00" y2="627.50" stroke-width="1.0" />
<polygon points="646.20,627.50 658.20,624.70 658.20,630.30" fill="#000" stroke="none"/>
<text fill="#000" stroke="none" x="685.90" y="634.70" font-size="20.29" font-family="Liberation Serif" font-weight="normal" text-anchor="middle" textLength="30.23" lengthAdjust="spacingAndGlyphs"  >1.70</text>
<text fill="#000" stroke="none" x="573.45" y="686.75" font-size="22.79" font-family="Liberation Serif" font-weight="bold" text-anchor="middle" textLength="11.95" lengthAdjust="spacingAndGlyphs"  >A</text>
<text fill="#000" stroke="none" x="617.40" y="686.75" font-size="22.79" font-family="Liberation Serif" font-weight="bold" text-anchor="middle" textLength="29.25" lengthAdjust="spacingAndGlyphs"  >Pin</text>
<path d="M 586.02 670.00 L 587.18 672.75 M 581.96 673.78 L 581.96 687.20 M 581.96 674.13 L 591.24 674.13 M 591.24 674.13 L 591.24 686.34 L 589.15 687.20 M 584.28 677.74 L 584.28 683.76 M 584.28 677.74 L 588.92 677.74 M 588.92 677.74 L 588.92 683.76 M 584.28 683.42 L 588.92 683.42" stroke-width="2.8" fill="none" stroke-linecap="square" stroke-linejoin="miter"/>
<path d="M 634.58 670.88 L 634.58 684.88 L 633.77 687.50 M 634.58 671.05 L 637.55 671.05 M 637.55 671.05 L 637.55 687.15 M 634.58 676.65 L 637.55 676.65 M 634.58 681.38 L 637.55 681.38 M 638.23 673.50 L 641.87 673.50 M 639.98 670.35 L 639.98 677.88 M 637.96 677.88 L 642.14 677.88 M 640.25 679.62 L 638.63 684.88 L 641.87 684.35 M 641.33 682.25 L 642.14 685.40 M 642.95 671.05 L 646.33 671.05 L 646.33 680.50 L 644.98 680.85 M 643.22 671.05 L 643.22 687.50" stroke-width="2.8" fill="none" stroke-linecap="square" stroke-linejoin="miter"/>
<path d="M 659.62 672.24 L 670.88 672.24 M 665.25 672.24 L 665.25 685.26 M 665.25 678.44 L 670.00 678.44 M 661.50 677.20 L 661.50 685.26 M 659.00 685.26 L 671.50 685.26" stroke-width="2.8" fill="none" stroke-linecap="square" stroke-linejoin="miter"/>
<path d="M 675.95 670.00 L 676.86 672.04 M 674.26 674.25 L 678.16 674.25 L 674.65 680.54 M 676.60 677.65 L 676.60 687.00 M 676.86 679.35 L 678.42 681.90 M 679.85 670.85 L 679.85 680.54 M 679.85 670.85 L 685.96 670.85 M 685.96 670.85 L 685.96 680.54 M 681.80 674.25 L 681.80 679.35 L 680.50 686.66 M 683.88 674.25 L 683.88 685.30 L 686.74 685.64 L 686.74 682.75" stroke-width="2.8" fill="none" stroke-linecap="square" stroke-linejoin="miter"/>
<path d="M 690.72 670.68 L 690.72 687.00 M 690.72 670.85 L 701.28 670.85 M 701.28 670.85 L 701.28 687.00 M 690.72 686.15 L 701.28 686.15 M 693.60 673.40 L 698.40 673.40 L 693.60 679.35 M 694.80 675.10 L 698.64 679.35 M 695.40 680.54 L 696.60 681.90 M 695.04 683.26 L 697.20 684.62" stroke-width="2.8" fill="none" stroke-linecap="square" stroke-linejoin="miter"/>
<text fill="#000" stroke="none" x="632.00" y="716.75" font-size="20.59" font-family="Liberation Serif" font-weight="normal" text-anchor="middle" textLength="83.85" lengthAdjust="spacingAndGlyphs"  >SCALE: 2:1</text>
</g>
</svg></body></html>
